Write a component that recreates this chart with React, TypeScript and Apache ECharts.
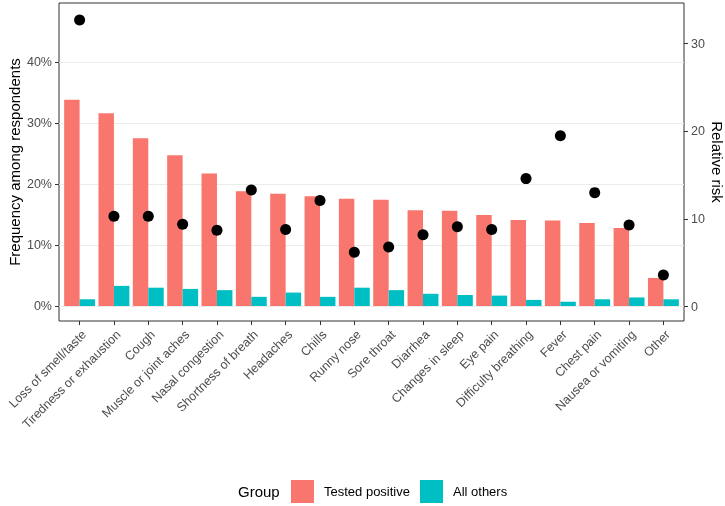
import { useEffect, useRef } from "react";
import * as echarts from "echarts";

const categories = [
  "Loss of smell/taste",
  "Tiredness or exhaustion",
  "Cough",
  "Muscle or joint aches",
  "Nasal congestion",
  "Shortness of breath",
  "Headaches",
  "Chills",
  "Runny nose",
  "Sore throat",
  "Diarrhea",
  "Changes in sleep",
  "Eye pain",
  "Difficulty breathing",
  "Fever",
  "Chest pain",
  "Nausea or vomiting",
  "Other",
];
const testedPositive = [33.8, 31.6, 27.5, 24.7, 21.7, 18.8, 18.4, 18.0, 17.6, 17.4, 15.7, 15.6, 14.9, 14.1, 14.0, 13.6, 12.8, 4.6];
const allOthers = [1.1, 3.3, 3.0, 2.8, 2.6, 1.5, 2.2, 1.5, 3.0, 2.6, 2.0, 1.8, 1.7, 1.0, 0.7, 1.1, 1.4, 1.1];
const relativeRisk = [32.7, 10.3, 10.3, 9.4, 8.7, 13.3, 8.8, 12.1, 6.2, 6.8, 8.2, 9.1, 8.8, 14.6, 19.5, 13.0, 9.3, 3.6];
const freqTicks = [0, 10, 20, 30, 40];
const riskTicks = [0, 10, 20, 30];

export default function App() {
  const ref = useRef<HTMLDivElement>(null);
  useEffect(() => {
    const chart = echarts.init(ref.current!, null, { renderer: "svg" });
    const font = "'Liberation Sans', Arial, Helvetica, sans-serif";
    const idx = categories.map((_, i) => i);
    const tickColor = "#333333";
    const labelColor = "#4D4D4D";
    chart.setOption({
      animation: false,
      textStyle: { fontFamily: font },
      grid: {
        left: 59,
        right: 41,
        top: 3,
        bottom: 185,
        show: true,
        borderColor: "#333333",
        borderWidth: 1,
        backgroundColor: "transparent",
        containLabel: false,
        outerBoundsMode: "none",
      },
      xAxis: {
        type: "value",
        min: -0.6,
        max: 17.6,
        axisLine: { show: false, onZero: false },
        splitLine: { show: false },
        axisTick: { show: true, length: 4, lineStyle: { color: tickColor }, customValues: idx },
        axisLabel: {
          customValues: idx,
          formatter: (v: number) => categories[Math.round(v)],
          rotate: 45,
          align: "right",
          verticalAlign: "top",
          margin: 7,
          fontSize: 12.5,
          color: labelColor,
          fontFamily: font,
        },
      },
      yAxis: [
        {
          type: "value",
          position: "left",
          min: -2.46,
          max: 49.67,
          axisLine: { show: false, onZero: false },
          axisTick: { show: true, length: 4, lineStyle: { color: tickColor }, customValues: freqTicks },
          axisLabel: {
            customValues: freqTicks,
            formatter: "{value}%",
            fontSize: 12.5,
            color: labelColor,
            margin: 7,
            fontFamily: font,
          },
          splitLine: { show: true, lineStyle: { color: "#EBEBEB", width: 1 } },
          name: "Frequency among respondents",
          nameLocation: "middle",
          nameGap: 37,
          nameMoveOverlap: false,
          nameTextStyle: { fontSize: 15, color: "#000000", fontFamily: font },
        },
        {
          type: "value",
          position: "right",
          min: -1.655,
          max: 34.65,
          axisLine: { show: false, onZero: false },
          axisTick: { show: true, length: 4, lineStyle: { color: tickColor }, customValues: riskTicks },
          axisLabel: {
            customValues: riskTicks,
            fontSize: 12.5,
            color: labelColor,
            margin: 7,
            fontFamily: font,
          },
          splitLine: { show: false },
          name: "Relative risk",
          nameLocation: "middle",
          nameRotate: -90,
          nameGap: 26,
          nameMoveOverlap: false,
          nameTextStyle: { fontSize: 15, color: "#000000", fontFamily: font },
        },
      ],
      legend: {
        data: ["Tested positive", "All others"],
        left: 291,
        top: 480,
        padding: 0,
        itemWidth: 23,
        itemHeight: 23,
        itemGap: 10,
        icon: "rect",
        textStyle: { fontSize: 13, color: "#000000", fontFamily: font, padding: [0, 0, 0, 5] },
      },
      graphic: [
        {
          type: "text",
          left: 238,
          top: 484,
          style: { text: "Group", fontSize: 15, fill: "#000000", fontFamily: font },
        },
      ],
      series: [
        {
          name: "Tested positive",
          type: "bar",
          xAxisIndex: 0,
          yAxisIndex: 0,
          barWidth: 15.45,
          barGap: "0%",
          itemStyle: { color: "#F8766D" },
          data: testedPositive.map((v, i) => [i, v]),
        },
        {
          name: "All others",
          type: "bar",
          xAxisIndex: 0,
          yAxisIndex: 0,
          barWidth: 15.45,
          barGap: "0%",
          itemStyle: { color: "#00BFC4" },
          data: allOthers.map((v, i) => [i, v]),
        },
        {
          name: "Relative risk",
          type: "scatter",
          xAxisIndex: 0,
          yAxisIndex: 1,
          symbolSize: 11,
          itemStyle: { color: "#000000", opacity: 1 },
          data: relativeRisk.map((v, i) => [i, v]),
        },
      ],
    });
    return () => chart.dispose();
  }, []);
  return (
    <div
      ref={ref}
      style={{ position: "fixed", left: 0, top: 0, width: 725, height: 506 }}
    />
  );
}
